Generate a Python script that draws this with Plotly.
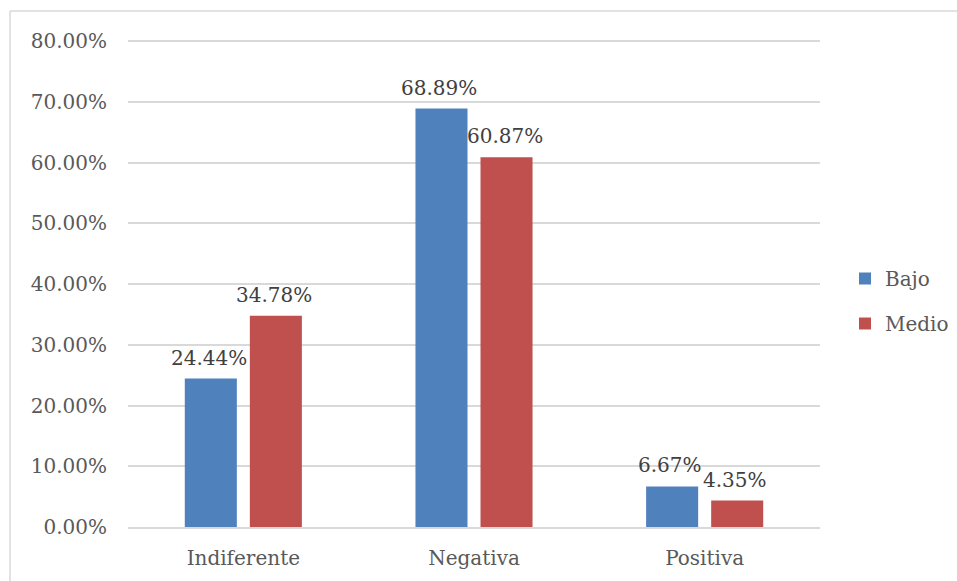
import plotly.graph_objects as go

categories = ["Indiferente", "Negativa", "Positiva"]
bajo = [24.44, 68.89, 6.67]
medio = [34.78, 60.87, 4.35]
tick_vals = [0, 10, 20, 30, 40, 50, 60, 70, 80]
tick_text = [f"{v:.2f}%" for v in tick_vals]

FONT = "DejaVu Serif"
TXT = "#595959"
FS = 20

fig = go.Figure()
fig.add_trace(go.Bar(name="Bajo", x=categories, y=bajo, marker=dict(color="#4f81bd", line=dict(width=0)),
                     legendgroup="a"))
fig.add_trace(go.Bar(name="Medio", x=categories, y=medio, marker=dict(color="#c0504d", line=dict(width=0)),
                     legendgroup="b"))

W, H = 957, 581
YMAX = 81
L, R, B = 128, 957 - 820, 581 - 527
unit = (527 - 41) / 80.0
T = int(round(41 - (YMAX - 80) * unit))
pw, ph = W - L - R, H - T - B

def px_to_paper_x(px):
    return (px - L) / pw

def px_to_paper_y(py):
    return (H - B - py) / ph

BARGAP, GROUPGAP = 0.436, 0.2
slot_px = pw / len(categories) * (1 - BARGAP) / 2
annotations = []
for series, sign in ((bajo, -1), (medio, 1)):
    for c, v in zip(categories, series):
        annotations.append(dict(x=c, y=v, xref="x", yref="y", text=f"{v:.2f}%", showarrow=False,
                                xanchor="center", yanchor="bottom", xshift=sign * slot_px / 2 - 2,
                                yshift=7, font=dict(family=FONT, size=FS, color="#404040")))

fig.update_layout(
    width=W, height=H,
    margin=dict(l=L, r=R, t=T, b=B, autoexpand=False),
    paper_bgcolor="white", plot_bgcolor="white",
    barmode="group", bargap=BARGAP, bargroupgap=GROUPGAP,
    font=dict(family=FONT, color=TXT, size=FS),
    showlegend=True,
    annotations=annotations,
    legend=dict(x=px_to_paper_x(845), xanchor="left", y=px_to_paper_y(259), yanchor="top",
                font=dict(family=FONT, size=FS, color=TXT), tracegroupgap=16,
                itemwidth=30, bgcolor="rgba(0,0,0,0)"),
    xaxis=dict(showgrid=False, showline=True, linecolor="#d9d9d9", linewidth=1.5,
               ticks="", ticklabelstandoff=12, tickfont=dict(family=FONT, size=FS, color=TXT)),
    yaxis=dict(range=[0, YMAX], tickvals=tick_vals, ticktext=tick_text, showgrid=True,
               gridcolor="#d9d9d9", gridwidth=1.5, zeroline=False, showline=False, ticks="",
               ticklabelstandoff=20, tickfont=dict(family=FONT, size=FS, color=TXT)),
    shapes=[
        dict(type="line", xref="paper", yref="paper", x0=px_to_paper_x(10), x1=px_to_paper_x(957),
             y0=px_to_paper_y(11), y1=px_to_paper_y(11), line=dict(color="#d9d9d9", width=1.5)),
        dict(type="line", xref="paper", yref="paper", x0=px_to_paper_x(10), x1=px_to_paper_x(10),
             y0=px_to_paper_y(11), y1=px_to_paper_y(581), line=dict(color="#d9d9d9", width=1.5)),
    ],
)

fig.write_html("out.html")
